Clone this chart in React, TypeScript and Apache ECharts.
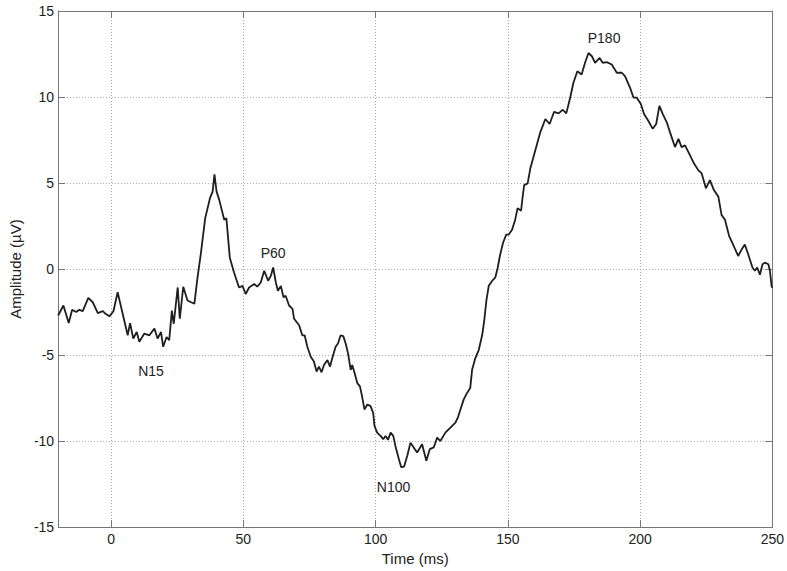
import React, { useEffect, useRef } from "react";
import * as echarts from "echarts";

const timeMs: number[] = [
  -20, -18, -16, -14.7, -13.2, -12, -10.7, -8.6, -6.9, -5, -3.1, -2.1, -0.6, 0.9, 2.5, 4.4, 6.3, 7.2, 8.4, 9.7,
  10.7, 12.6, 14.5, 16.4, 17.6, 18.9, 19.7, 21, 22, 23, 23.7, 25.2, 26, 27.3, 28.9, 31.5, 32.7, 34, 35.6, 37.4,
  38.4, 39.1, 39.9, 40.9, 42.8, 43.6, 44.9, 46.5, 48.4, 49.7, 50.9, 52.2, 54.1, 55.3, 56.6, 57.9, 59.4, 60.4, 61.3, 62.3,
  63.1, 64.2, 65.2, 66, 67.3, 68.6, 69.2, 71.1, 72.3, 73.2, 74.2, 75.5, 76.7, 77.7, 78.6, 79.6, 80.5, 81.8, 82.8, 83.6,
  84.9, 85.8, 86.8, 87.8, 88.7, 89.6, 90.6, 91.2, 92.1, 93.1, 94.1, 94.9, 95.8, 96.9, 98.1, 99.1, 99.6, 100.6, 101.9, 102.9,
  103.8, 104.7, 105.7, 106.7, 107.5, 108.8, 109.7, 110.8, 112, 113.2, 115.7, 117.6, 119.2, 120.5, 122, 123.3, 124.5, 126.4, 128.3, 130.2,
  131.1, 132.1, 133.3, 134.6, 135.8, 136.5, 137.7, 139, 140.3, 141.1, 141.9, 142.8, 144.1, 145.3, 146.2, 147, 148.2, 149.4, 150.3, 151.6,
  152.8, 153.7, 155, 155.7, 156.2, 157.5, 158.5, 160.4, 162.3, 164.2, 165.8, 167.5, 169.2, 170.8, 172.1, 173.6, 174.8, 176.3, 177.9, 179.2,
  180.5, 181.8, 183, 184.7, 185.9, 187.4, 189.3, 191.2, 193.1, 194.3, 196.2, 197.5, 198.7, 200.3, 201.5, 203.1, 204.8, 206.1, 207.3, 208.6,
  210.1, 211.3, 213.2, 214.5, 215.7, 217, 218.9, 220.4, 222, 223.3, 224.9, 226.4, 227.9, 229.6, 230.8, 232.1, 233.7, 235.4, 237.1, 238.4,
  239.6, 240.9, 242.5, 243.4, 244.3, 245.3, 246.3, 247.2, 248.5, 249.1, 249.7, 250,
];

const amplitudeUV: number[] = [
  -2.7, -2.12, -3.14, -2.37, -2.5, -2.37, -2.45, -1.68, -1.93, -2.56, -2.45, -2.6, -2.75, -2.45, -1.35, -2.6, -3.85, -3.14, -4.04, -3.66,
  -4.23, -3.75, -3.85, -3.46, -4.04, -3.66, -4.52, -3.95, -4.14, -2.41, -3.18, -1.07, -2.89, -1.03, -1.83, -2.02, -0.49, 0.95, 2.96, 4.12,
  4.5, 5.5, 4.5, 4.02, 2.87, 2.96, 0.66, -0.2, -1.07, -0.98, -1.45, -1.07, -0.87, -1.02, -0.78, -0.1, -0.68, -0.4, 0.09, -0.78,
  -1.26, -0.98, -1.64, -1.55, -2.12, -2.31, -2.89, -3.27, -3.85, -3.85, -4.52, -5.1, -5.38, -5.96, -5.67, -6.0, -5.58, -5.29, -5.67, -5.2,
  -4.52, -4.33, -3.85, -3.9, -4.33, -4.9, -5.86, -5.58, -6.06, -6.63, -6.82, -7.4, -8.16, -7.87, -7.97, -8.36, -9.12, -9.51, -9.7, -9.89,
  -9.7, -9.93, -9.51, -9.7, -10.28, -11.04, -11.52, -11.48, -10.85, -10.09, -10.66, -10.18, -11.14, -10.47, -10.37, -9.8, -10.0, -9.51, -9.22, -8.93,
  -8.64, -8.16, -7.59, -7.2, -6.92, -5.86, -5.19, -4.71, -3.85, -2.98, -1.83, -0.97, -0.68, -0.48, 0.09, 0.76, 1.53, 2.0, 2.0, 2.29,
  2.87, 3.54, 3.39, 4.31, 4.88, 4.98, 5.84, 6.9, 7.96, 8.72, 8.43, 9.14, 9.05, 9.26, 9.05, 9.97, 10.83, 11.5, 11.31, 11.99,
  12.56, 12.37, 11.99, 12.27, 11.99, 12.03, 11.89, 11.41, 11.41, 11.21, 10.55, 9.97, 9.97, 9.59, 9.01, 8.62, 8.15, 8.43, 9.49, 9.01,
  8.53, 7.96, 7.09, 7.57, 7.09, 7.19, 6.61, 6.13, 5.75, 5.56, 4.69, 5.17, 4.59, 4.21, 3.15, 2.87, 1.91, 1.34, 0.76, 1.14,
  1.43, 0.85, 0.09, -0.1, 0.09, -0.33, 0.28, 0.37, 0.28, -0.1, -0.97, -1.1,
];

const peakNames: string[] = ["N15", "P60", "N100", "P180"];
const peakTimes: number[] = [15.1, 61.3, 106.8, 186.4];
const peakLabelAmps: number[] = [-5.95, 0.95, -12.65, 13.44];

const xTickValues: number[] = [0, 50, 100, 150, 200, 250];
const xRange = { min: -20, max: 250 };
const yTicks = { min: -15, max: 15, interval: 5 };

export default function App() {
  const ref = useRef<HTMLDivElement>(null);

  useEffect(() => {
    if (!ref.current) return;
    const chart = echarts.init(ref.current, null, { renderer: "svg" });
    const font = "Liberation Sans, Arial, Helvetica, sans-serif";
    const axisColor = "#777";
    const textColor = "#222";
    const gridLine = { show: true, lineStyle: { color: "#a8a8a8", type: [1, 2], width: 1 } };

    const data = timeMs.map((t, i) => [t, amplitudeUV[i]]);
    const peaks = peakNames.map((n, i) => ({
      name: n,
      coord: [peakTimes[i], peakLabelAmps[i]],
    }));

    chart.setOption({
      animation: false,
      backgroundColor: "#fff",
      grid: { left: 57, right: 14.5, top: 11, bottom: 39, containLabel: false },
      xAxis: [
        {
          type: "value",
          min: xRange.min,
          max: xRange.max,
          position: "bottom",
          name: "Time (ms)",
          nameLocation: "middle",
          nameGap: 21,
          nameTextStyle: { color: textColor, fontFamily: font, fontSize: 15 },
          axisLine: { show: true, onZero: false, lineStyle: { color: axisColor, width: 1 } },
          axisTick: {
            show: true,
            inside: true,
            length: 7,
            customValues: xTickValues,
            lineStyle: { color: axisColor },
          },
          axisLabel: {
            color: textColor,
            fontFamily: font,
            fontSize: 14,
            margin: 5,
            customValues: xTickValues,
          },
          splitLine: gridLine,
        },
        {
          type: "value",
          min: xRange.min,
          max: xRange.max,
          position: "top",
          axisLine: { show: true, onZero: false, lineStyle: { color: axisColor, width: 1 } },
          axisTick: {
            show: true,
            inside: true,
            length: 7,
            customValues: xTickValues,
            lineStyle: { color: axisColor },
          },
          axisLabel: { show: false },
          splitLine: { show: false },
        },
      ],
      yAxis: [
        {
          type: "value",
          min: yTicks.min,
          max: yTicks.max,
          interval: yTicks.interval,
          position: "left",
          name: "Amplitude (µV)",
          nameLocation: "middle",
          nameGap: 29,
          nameRotate: 90,
          nameTextStyle: { color: textColor, fontFamily: font, fontSize: 15 },
          axisLine: { show: true, onZero: false, lineStyle: { color: axisColor, width: 1 } },
          axisTick: { show: true, inside: true, length: 7, lineStyle: { color: axisColor } },
          axisLabel: { color: textColor, fontFamily: font, fontSize: 14, margin: 4 },
          splitLine: gridLine,
        },
        {
          type: "value",
          min: yTicks.min,
          max: yTicks.max,
          interval: yTicks.interval,
          position: "right",
          axisLine: { show: true, onZero: false, lineStyle: { color: axisColor, width: 1 } },
          axisTick: { show: true, inside: true, length: 7, lineStyle: { color: axisColor } },
          axisLabel: { show: false },
          splitLine: { show: false },
        },
      ],
      series: [
        {
          type: "line",
          xAxisIndex: 0,
          yAxisIndex: 0,
          data,
          showSymbol: false,
          symbol: "none",
          lineStyle: { color: "#1e1e1e", width: 1.8 },
          z: 5,
          markPoint: {
            symbol: "circle",
            symbolSize: 0,
            silent: true,
            label: {
              show: true,
              position: "inside",
              formatter: (p: any) => p.name,
              color: textColor,
              fontFamily: font,
              fontSize: 14,
            },
            data: peaks,
          },
        },
      ],
    });

    return () => chart.dispose();
  }, []);

  return <div ref={ref} style={{ width: 787, height: 571, position: "absolute", left: 0, top: 0 }} />;
}
